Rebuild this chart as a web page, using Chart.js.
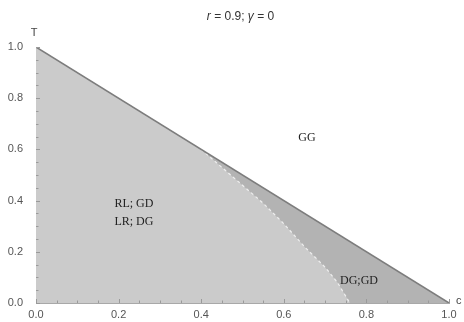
<!DOCTYPE html>
<html>
<head>
<meta charset="utf-8">
<script src="https://cdn.jsdelivr.net/npm/chart.js@4"></script>
<style>
  html, body { margin: 0; padding: 0; background: #fff; }
  #chart { display: block; }
</style>
</head>
<body>
<canvas id="chart" width="464" height="322"></canvas>
<script>
// frontera exterior T = 1 - c
const lineX = [0, 1];
const lineT = [1, 0];
// curva que separa RL;GD / LR;DG de DG;GD
const curveX = [0.40, 0.45, 0.50, 0.55, 0.60, 0.65, 0.70, 0.73, 0.76];
const curveT = [0.60, 0.53, 0.46, 0.39, 0.31, 0.22, 0.14, 0.08, 0.00];
// etiquetas de las regiones
const regionNames = ["GG", "RL; GD", "LR; DG", "DG;GD"];
const regionX = [0.656, 0.237, 0.237, 0.782];
const regionT = [0.645, 0.387, 0.316, 0.086];
const tickValues = [0, 0.2, 0.4, 0.6, 0.8, 1.0];

let lineData = lineX.map((x, i) => ({x: x, y: lineT[i]}));
let curveData = curveX.map((x, i) => ({x: x, y: curveT[i]}));
let lightData = [{x: lineX[0], y: lineT[0]}].concat(curveData);

// ticks hacia dentro, mayores cada 0.2 y menores cada 0.05
const innerTicks = {
    id: "innerTicks",
    afterDatasetsDraw(chart) {
        let ctx = chart.ctx;
        let xs = chart.scales.x, ys = chart.scales.y;
        ctx.save();
        ctx.strokeStyle = "#9a9a9a";
        ctx.lineWidth = 1;
        for (let k = 0; k <= 20; k++) {
            let v = k / 20;
            let len = (k % 4 === 0) ? 4 : 2.5;
            let px = Math.round(xs.getPixelForValue(v)) + 0.5;
            let py = Math.round(ys.getPixelForValue(v)) + 0.5;
            ctx.beginPath();
            ctx.moveTo(px, ys.bottom);
            ctx.lineTo(px, ys.bottom - len);
            ctx.moveTo(xs.left, py);
            ctx.lineTo(xs.left + len, py);
            ctx.stroke();
        }
        ctx.restore();
    }
};

// título, nombres de ejes y etiquetas de regiones
const textos = {
    id: "textos",
    afterDraw(chart) {
        let ctx = chart.ctx;
        let xs = chart.scales.x, ys = chart.scales.y;
        ctx.save();
        ctx.fillStyle = "#333";
        ctx.textBaseline = "middle";

        // título con r y γ en cursiva
        let parts = [["italic", "r"], ["normal", " = 0.9; "], ["italic", "γ"], ["normal", " = 0"]];
        let total = 0;
        parts.forEach(p => { ctx.font = p[0] + " 12px 'Liberation Sans', Arial, sans-serif"; total += ctx.measureText(p[1]).width; });
        let cx = (xs.left + xs.right) / 2 - total / 2 - 2;
        ctx.textAlign = "left";
        parts.forEach(p => {
            ctx.font = p[0] + " 12px 'Liberation Sans', Arial, sans-serif";
            ctx.fillText(p[1], cx, 17);
            cx += ctx.measureText(p[1]).width;
        });

        ctx.fillStyle = "#444";
        ctx.font = "11px 'Liberation Sans', Arial, sans-serif";
        ctx.textAlign = "center";
        ctx.fillText("T", xs.left - 2, ys.top - 14);
        ctx.textAlign = "left";
        ctx.fillText("c", xs.right + 7, ys.bottom - 2);

        ctx.fillStyle = "#222";
        ctx.font = "12px 'Liberation Serif', 'DejaVu Serif', serif";
        ctx.textAlign = "center";
        regionNames.forEach((name, i) => {
            ctx.fillText(name, xs.getPixelForValue(regionX[i]), ys.getPixelForValue(regionT[i]));
        });
        ctx.restore();
    }
};

new Chart(document.getElementById("chart"), {
    type: "line",
    data: {
        datasets: [
            {
                // diagonal encima de todo
                data: lineData,
                borderColor: "#7d7d7d",
                borderWidth: 1.5,
                fill: false,
                pointRadius: 0,
            },
            {
                // curva discontinua blanca
                data: curveData,
                borderColor: "rgba(255,255,255,0.75)",
                borderWidth: 1.2,
                borderDash: [3, 3],
                fill: false,
                pointRadius: 0,
            },
            {
                // región clara
                data: lightData,
                backgroundColor: "#cbcbcb",
                borderWidth: 0,
                fill: "origin",
                pointRadius: 0,
            },
            {
                // triángulo completo, gris oscuro
                data: lineData,
                backgroundColor: "#b3b3b3",
                borderWidth: 0,
                fill: "origin",
                pointRadius: 0,
            },
        ],
    },
    options: {
        responsive: false,
        animation: false,
        layout: {
            padding: {top: 47, right: 15, left: 0, bottom: 0},
        },
        plugins: {
            legend: { display: false },
            tooltip: { enabled: false },
            title: { display: false },
        },
        scales: {
            x: {
                type: "linear",
                min: 0,
                max: 1,
                afterFit: (s) => { s.height = 19; },
                afterBuildTicks: (s) => { s.ticks = tickValues.map(v => ({value: v})); },
                grid: { display: false },
                border: { color: "#a8a8a8", width: 1 },
                ticks: {
                    padding: -3,
                    color: "#555",
                    font: { family: "'Liberation Sans', Arial, sans-serif", size: 11 },
                    callback: (v) => v.toFixed(1),
                },
            },
            y: {
                type: "linear",
                min: 0,
                max: 1,
                afterFit: (s) => { s.width = 36; },
                afterBuildTicks: (s) => { s.ticks = tickValues.map(v => ({value: v})); },
                grid: { display: false },
                border: { color: "#a8a8a8", width: 1 },
                ticks: {
                    padding: 5,
                    color: "#555",
                    font: { family: "'Liberation Sans', Arial, sans-serif", size: 11 },
                    callback: (v) => v.toFixed(1),
                },
            },
        },
    },
    plugins: [innerTicks, textos],
});
</script>
</body>
</html>
